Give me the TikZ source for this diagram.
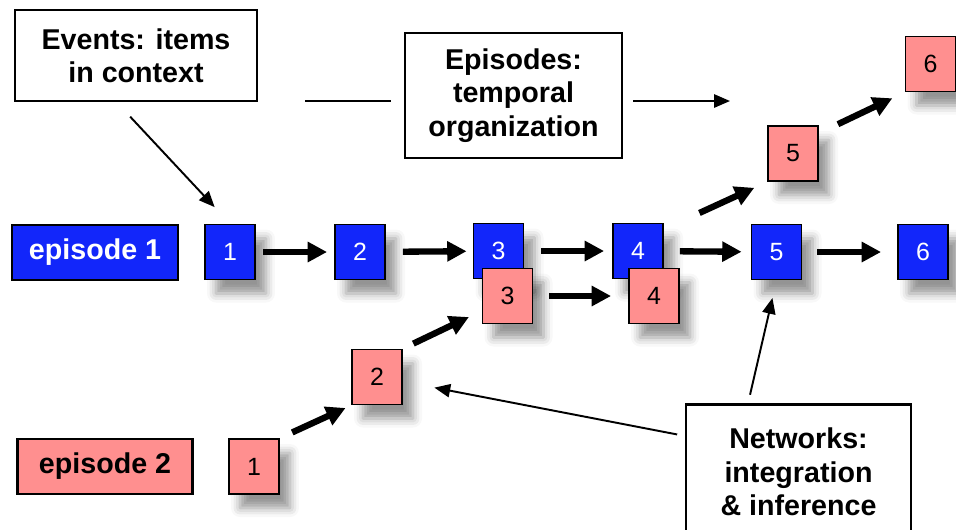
\documentclass[tikz,border=0pt]{standalone}
\usepackage{fontspec}
\setmainfont{Liberation Sans}
\usetikzlibrary{arrows.meta, shadows.blur}

\definecolor{epblue}{RGB}{18,38,250}
\definecolor{eppink}{RGB}{255,143,143}

\begin{document}
\begin{tikzpicture}[
x=0.02cm, y=-0.02cm,
every node/.style={font=\fontsize{16.3}{19}\selectfont\bfseries, align=center},
episode/.style={rectangle, draw=black, line width=1.3pt, minimum height=1.1cm, inner sep=0pt},
event/.style={rectangle, draw=black, line width=1.1pt, minimum width=1cm, minimum height=1.1cm, inner sep=0pt, font=\fontsize{14.2}{16}\selectfont,
  blur shadow={shadow xshift=0.22cm, shadow yshift=-0.28cm, shadow blur radius=0.18cm, shadow opacity=42}},
blue event/.style={event, fill=epblue, text=white},
pink event/.style={event, fill=eppink, text=black},
note/.style={rectangle, draw=black, line width=1.2pt, fill=white, inner sep=0pt},
link/.style={-{Triangle[length=11pt, width=11pt]}, line width=3.6pt},
thin link/.style={-{Triangle[length=9pt, width=7.5pt]}, line width=1.1pt}
]
\useasboundingbox (0,0) rectangle (956,529);

\node[episode, fill=epblue, text=white, minimum width=3.32cm] (ep1) at (95,252.5) {episode 1};
\node[episode, fill=eppink, minimum width=3.5cm] (ep2) at (105,466.5) {episode 2};

\node[blue event] (b1) at (230,252) {1};
\node[blue event] (b2) at (360,252) {2};
\node[blue event] (b3) at (498.5,251) {3};
\node[blue event] (b4) at (638,251) {4};
\node[blue event] (b5) at (776.5,252) {5};
\node[blue event] (b6) at (923,252) {6};

\node[pink event] (p1) at (254,466.5) {1};
\node[pink event] (p2) at (377,377) {2};
\node[pink event] (p3) at (507.5,296) {3};
\node[pink event] (p4) at (654,296) {4};
\node[pink event] (p5) at (793,153.5) {5};
\node[pink event] (p6) at (930.5,64) {6};

\node[note, minimum width=4.84cm, minimum height=1.82cm] (events) at (136,55.5) {Events: items\\in context};
\node[note, minimum width=4.34cm, minimum height=2.5cm] (episodes) at (513.5,95.5) {Episodes:\\temporal\\organization};
\node[note, minimum width=4.5cm, minimum height=2.7cm] (net) at (798.5,472) {Networks:\\integration\\\& inference};

\coordinate (epleft) at (305,101);
\coordinate (epright) at (730,101);

\draw[link, shorten <=0.14cm, shorten >=0.14cm] (b1) -- (b2);
\draw[link, shorten <=0.34cm, shorten >=0.12cm] (b2) -- (b3);
\draw[link, shorten <=0.34cm, shorten >=0.16cm] (b3) -- (b4);
\draw[link, shorten <=0.32cm, shorten >=0.18cm] (b4) -- (b5);
\draw[link, shorten <=0.30cm, shorten >=0.32cm] (b5) -- (b6);

\draw[link, shorten <=0.27cm, shorten >=0.12cm] (p1.north east) -- (p2.south west);
\draw[link, shorten <=0.23cm, shorten >=0.28cm] (p2.north east) -- (p3.210);
\draw[link, shorten <=0.32cm, shorten >=0.34cm] (p3) -- (p4);
\draw[link, shorten <=0.78cm, shorten >=0.28cm] (b4.40) -- (p5.south west);
\draw[link, shorten <=0.42cm, shorten >=0.27cm] (p5.38) -- (p6.south west);

\draw[thin link, shorten <=0.40cm, shorten >=0.45cm] ([xshift=-0.39cm]events.south) -- (b1.north);
\draw[line width=1.1pt, shorten <=0.26cm] (episodes.west |- epleft) -- (epleft);
\draw[thin link, shorten <=0.2cm] (episodes.east |- epright) -- (epright);
\draw[thin link, shorten <=0.16cm, shorten >=0.64cm] ([yshift=-0.65cm]net.north west) -- (p2.-10);
\draw[thin link, shorten <=0.18cm, shorten >=0.36cm] ([xshift=-1.01cm]net.north) -- (b5.south);

\end{tikzpicture}
\end{document}
